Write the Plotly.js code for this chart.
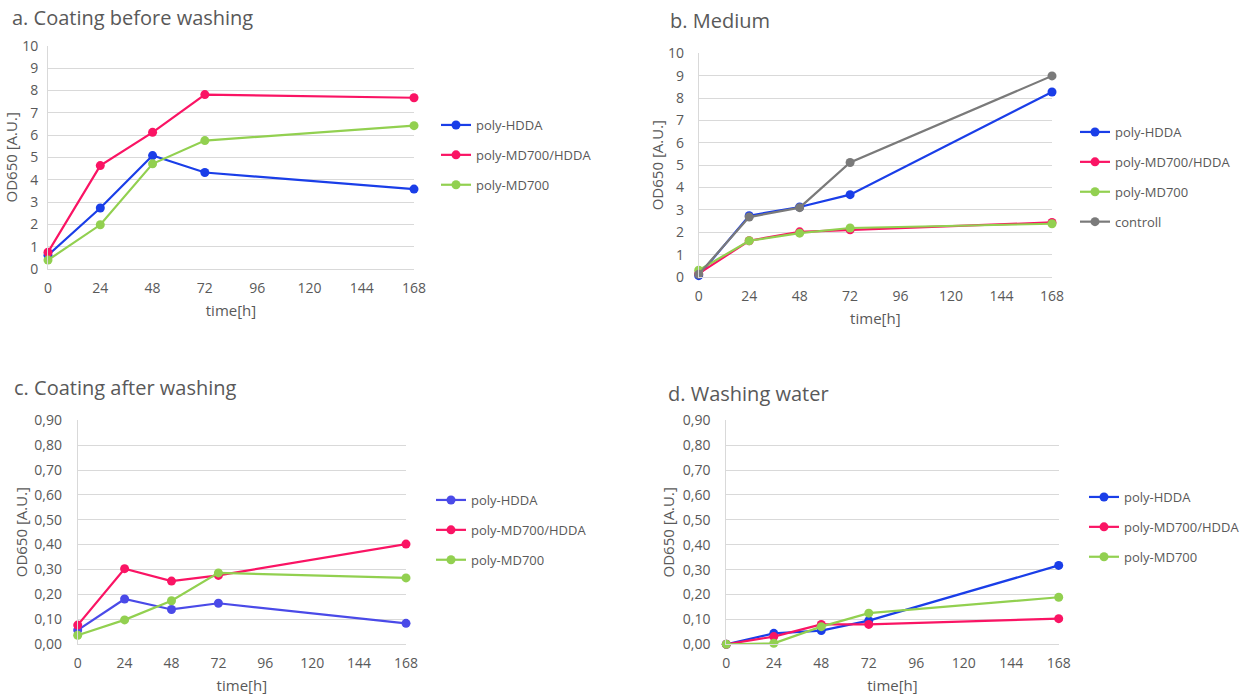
<!DOCTYPE html>
<html>
<head>
<meta charset="utf-8">
<script src="https://cdn.plot.ly/plotly-3.0.1.min.js"></script>
<style>html,body{margin:0;padding:0;background:#fff;}#chart{width:1249px;height:695px;}</style>
</head>
<body>
<div id="chart"></div>
<script>
// time points (hours)
const time = [0, 24, 48, 72, 168];
const xTicks = [0, 24, 48, 72, 96, 120, 144, 168];

// a. Coating before washing
const aHDDA = [0.62, 2.73, 5.08, 4.32, 3.58];
const aMD700HDDA = [0.75, 4.63, 6.12, 7.81, 7.67];
const aMD700 = [0.40, 1.98, 4.71, 5.75, 6.42];

// b. Medium
const bHDDA = [0.06, 2.74, 3.13, 3.68, 8.27];
const bMD700HDDA = [0.15, 1.62, 2.02, 2.11, 2.44];
const bMD700 = [0.30, 1.62, 1.96, 2.19, 2.38];
const bControl = [0.12, 2.68, 3.10, 5.12, 8.99];

// c. Coating after washing
const cHDDA = [0.056, 0.181, 0.139, 0.164, 0.083];
const cMD700HDDA = [0.076, 0.303, 0.253, 0.276, 0.402];
const cMD700 = [0.035, 0.097, 0.174, 0.286, 0.266];

// d. Washing water
const dHDDA = [0.0, 0.044, 0.055, 0.095, 0.317];
const dMD700HDDA = [0.0, 0.031, 0.080, 0.080, 0.103];
const dMD700 = [0.0, 0.004, 0.071, 0.125, 0.189];

const names = ['poly-HDDA', 'poly-MD700/HDDA', 'poly-MD700', 'controll'];
const panelTitles = ['a. Coating before washing', 'b. Medium', 'c. Coating after washing', 'd. Washing water'];

const BLUE = '#1a3ee8', BLUE_C = '#4a4ae8', RED = '#fa1464', GREEN = '#92d050', GREY = '#7a7a7a';
const TXT = '#595959';
const FONT = 'Open Sans, Liberation Sans, sans-serif';

function tr(y, name, color, xa, ya, leg, grp) {
  return {
    x: time, y: y, name: name, type: 'scatter', mode: 'lines+markers',
    line: {color: color, width: 2.2}, marker: {color: color, size: 9},
    xaxis: xa, yaxis: ya, legend: leg, legendgroup: grp, cliponaxis: false
  };
}

const data = [
  tr(aHDDA, names[0], BLUE, 'x', 'y', 'legend', 'a1'),
  tr(aMD700HDDA, names[1], RED, 'x', 'y', 'legend', 'a2'),
  tr(aMD700, names[2], GREEN, 'x', 'y', 'legend', 'a3'),
  tr(bHDDA, names[0], BLUE, 'x2', 'y2', 'legend2', 'b1'),
  tr(bMD700HDDA, names[1], RED, 'x2', 'y2', 'legend2', 'b2'),
  tr(bMD700, names[2], GREEN, 'x2', 'y2', 'legend2', 'b3'),
  tr(bControl, names[3], GREY, 'x2', 'y2', 'legend2', 'b4'),
  tr(cHDDA, names[0], BLUE_C, 'x3', 'y3', 'legend3', 'c1'),
  tr(cMD700HDDA, names[1], RED, 'x3', 'y3', 'legend3', 'c2'),
  tr(cMD700, names[2], GREEN, 'x3', 'y3', 'legend3', 'c3'),
  tr(dHDDA, names[0], BLUE, 'x4', 'y4', 'legend4', 'd1'),
  tr(dMD700HDDA, names[1], RED, 'x4', 'y4', 'legend4', 'd2'),
  tr(dMD700, names[2], GREEN, 'x4', 'y4', 'legend4', 'd3')
];

function xax(dom, anchor) {
  return {
    domain: dom, anchor: anchor, range: [0, 168], tickvals: xTicks,
    showgrid: false, zeroline: false, showline: true, linecolor: '#d9d9d9', linewidth: 1,
    ticks: '', ticklabelstandoff: 6, tickfont: {size: 14, color: TXT, family: FONT},
    title: {text: 'time[h]', font: {size: 15, color: TXT, family: FONT}, standoff: 9}
  };
}
function yax(dom, anchor, rng, dt, fmt, lblOff, ttlOff) {
  return {
    domain: dom, anchor: anchor, range: rng, dtick: dt, tick0: 0, tickformat: fmt,
    showgrid: true, gridcolor: '#d9d9d9', gridwidth: 1, zeroline: false,
    showline: true, linecolor: '#d9d9d9', linewidth: 1,
    ticks: '', ticklabelstandoff: lblOff, tickfont: {size: 14, color: TXT, family: FONT},
    title: {text: 'OD650 [A.U.]', font: {size: 15, color: TXT, family: FONT}, standoff: ttlOff}
  };
}
function leg(x, y) {
  return {x: x, y: y, xanchor: 'left', yanchor: 'top', bgcolor: 'rgba(0,0,0,0)',
    font: {size: 13, color: TXT, family: FONT}, tracegroupgap: 10, itemwidth: 30};
}

const W = 1249, H = 695;
const px = v => v / W, py = v => 1 - v / H;

const layout = {
  width: W, height: H, margin: {l: 0, r: 0, t: 0, b: 0},
  paper_bgcolor: '#fff', plot_bgcolor: '#fff', separators: ',.',
  font: {family: FONT, color: TXT},
  showlegend: true,
  xaxis: xax([px(48), px(414)], 'y'),
  yaxis: yax([py(269), py(45.7)], 'x', [0, 10], 1, '', 6, 0),
  xaxis2: xax([px(698.7), px(1052)], 'y2'),
  yaxis2: yax([py(277), py(53.3)], 'x2', [0, 10], 1, '', 11, 0),
  xaxis3: xax([px(77.7), px(406)], 'y3'),
  yaxis3: yax([py(644), py(420.3)], 'x3', [0, 0.9], 0.1, '.2f', 12, 3),
  xaxis4: xax([px(726.3), px(1058.7)], 'y4'),
  yaxis4: yax([py(644.3), py(420.3)], 'x4', [0, 0.9], 0.1, '.2f', 12, 4),
  legend: leg(px(436), py(110)),
  legend2: leg(px(1075), py(117)),
  legend3: leg(px(431), py(485)),
  legend4: leg(px(1084), py(482)),
  annotations: [
    {text: panelTitles[0], x: px(10), y: py(17), xref: 'paper', yref: 'paper', xanchor: 'left', yanchor: 'middle', showarrow: false, font: {size: 20, color: TXT, family: FONT}},
    {text: panelTitles[1], x: px(668), y: py(20), xref: 'paper', yref: 'paper', xanchor: 'left', yanchor: 'middle', showarrow: false, font: {size: 20, color: TXT, family: FONT}},
    {text: panelTitles[2], x: px(12), y: py(387), xref: 'paper', yref: 'paper', xanchor: 'left', yanchor: 'middle', showarrow: false, font: {size: 20, color: TXT, family: FONT}},
    {text: panelTitles[3], x: px(666), y: py(393), xref: 'paper', yref: 'paper', xanchor: 'left', yanchor: 'middle', showarrow: false, font: {size: 20, color: TXT, family: FONT}}
  ]
};

Plotly.newPlot('chart', data, layout, {displayModeBar: false, responsive: false});
</script>
</body>
</html>
